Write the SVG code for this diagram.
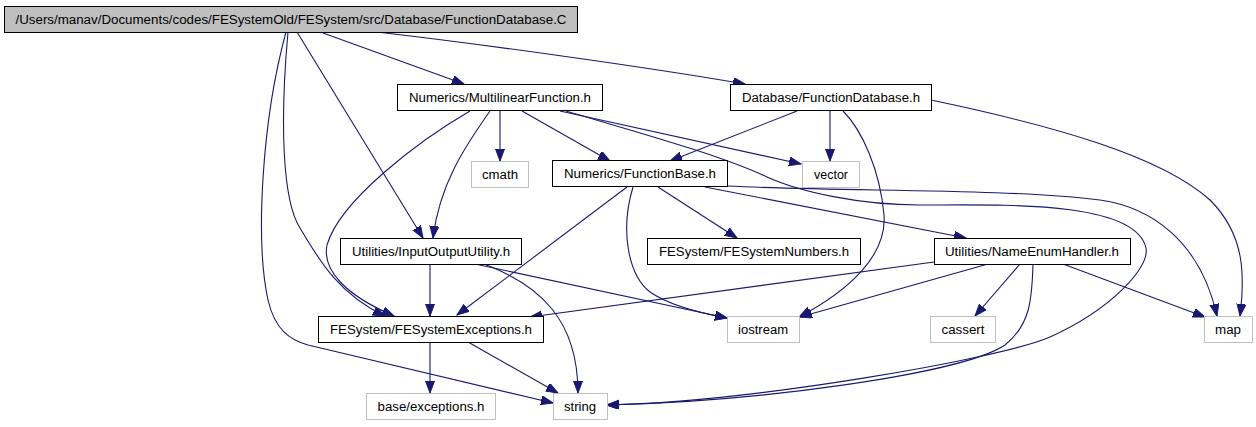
<svg xmlns="http://www.w3.org/2000/svg" width="1256" height="427" viewBox="0 0 1256 427">
<defs>
<marker id="ah" markerUnits="userSpaceOnUse" markerWidth="13" markerHeight="10" refX="12" refY="4.5" orient="auto">
<path d="M0,0 L12,4.5 L0,9 z" fill="#191970" stroke="#191970" stroke-width="1"/>
</marker>
<style>
.e{fill:none;stroke:#191970;stroke-width:1.1;marker-end:url(#ah)}
.d{fill:#ffffff;stroke:#000000;stroke-width:1}
.s{fill:#ffffff;stroke:#bfbfbf;stroke-width:1}
.r{fill:#bfbfbf;stroke:#000000;stroke-width:1}
text{font-family:"Liberation Sans",Arial,Helvetica,sans-serif;font-size:12.5px;fill:#000;text-anchor:middle}
</style>
</defs>
<rect width="1256" height="427" fill="#ffffff"/>
<g id="edges">
<path class="e" d="M323,33 L464,84"/>
<path class="e" d="M377,32 C480,44 640,66 745,84"/>
<path class="e" d="M297,32 L423,238"/>
<path class="e" d="M288,32 C280,120 282,200 300,228 C320,262 340,295 385,316"/>
<path class="e" d="M286,32 C262,120 255,240 268,300 C275,330 290,340 308,345 L553,403"/>
<path class="e" d="M470,111 C420,140 340,200 327,245 C322,270 345,295 394,316"/>
<path class="e" d="M490,111 C470,140 440,180 433,238"/>
<path class="e" d="M500,111 L500,161"/>
<path class="e" d="M522,111 L610,161"/>
<path class="e" d="M560,111 L801,164"/>
<path class="e" d="M566,111 C640,133 720,155 767,177 C800,192 860,205 920,205 C1000,205 1135,200 1146,248 C1150,268 1110,310 1050,337 C1000,359 750,402 607,405"/>
<path class="e" d="M797,111 L670,161"/>
<path class="e" d="M830,111 L830,161"/>
<path class="e" d="M843,111 C862,130 880,170 884,215 C887,255 850,290 799,317"/>
<path class="e" d="M931,100 C1050,125 1160,155 1210,200 C1245,235 1245,275 1240,316"/>
<path class="e" d="M727,186 C850,192 1000,188 1100,200 C1150,207 1200,240 1217,316"/>
<path class="e" d="M705,187 L966,238"/>
<path class="e" d="M658,187 L737,238"/>
<path class="e" d="M627,187 L457,315"/>
<path class="e" d="M633,187 C620,230 628,275 650,292 C670,306 700,313 727,318"/>
<path class="e" d="M475,264 L727,318"/>
<path class="e" d="M430,264 L430,316"/>
<path class="e" d="M484,264 C540,285 578,320 578,393"/>
<path class="e" d="M430,342 L430,393"/>
<path class="e" d="M468,342 L558,393"/>
<path class="e" d="M934,262 L530,317"/>
<path class="e" d="M988,264 L800,317"/>
<path class="e" d="M1020,264 L975,316"/>
<path class="e" d="M1033,264 C1032,300 1030,325 1005,345 C960,375 750,402 607,405"/>
<path class="e" d="M1063,264 L1205,317"/>
</g>
<g id="node_top"><rect class="r" x="4.5" y="6.5" width="573" height="26"/><text x="291" y="24" textLength="551" lengthAdjust="spacingAndGlyphs">/Users/manav/Documents/codes/FESystemOld/FESystem/src/Database/FunctionDatabase.C</text></g>
<g id="node_mlf"><rect class="d" x="397.5" y="84.5" width="205" height="26"/><text x="500" y="102" textLength="182" lengthAdjust="spacingAndGlyphs">Numerics/MultilinearFunction.h</text></g>
<g id="node_fdb"><rect class="d" x="730.5" y="84.5" width="201" height="26"/><text x="831" y="102" textLength="178" lengthAdjust="spacingAndGlyphs">Database/FunctionDatabase.h</text></g>
<g id="node_cmath"><rect class="s" x="471.5" y="161.5" width="57" height="26"/><text x="500" y="179" textLength="36" lengthAdjust="spacingAndGlyphs">cmath</text></g>
<g id="node_fbase"><rect class="d" x="552.5" y="160.5" width="175" height="26"/><text x="640" y="178" textLength="152" lengthAdjust="spacingAndGlyphs">Numerics/FunctionBase.h</text></g>
<g id="node_vector"><rect class="s" x="802.5" y="161.5" width="57" height="26"/><text x="831" y="179" textLength="34" lengthAdjust="spacingAndGlyphs">vector</text></g>
<g id="node_iou"><rect class="d" x="340.5" y="238.5" width="181" height="26"/><text x="431" y="256" textLength="158" lengthAdjust="spacingAndGlyphs">Utilities/InputOutputUtility.h</text></g>
<g id="node_fenum"><rect class="d" x="647.5" y="238.5" width="213" height="26"/><text x="754" y="256" textLength="190" lengthAdjust="spacingAndGlyphs">FESystem/FESystemNumbers.h</text></g>
<g id="node_neh"><rect class="d" x="934.5" y="238.5" width="196" height="26"/><text x="1032" y="256" textLength="174" lengthAdjust="spacingAndGlyphs">Utilities/NameEnumHandler.h</text></g>
<g id="node_fexc"><rect class="d" x="318.5" y="316.5" width="225" height="26"/><text x="431" y="334" textLength="202" lengthAdjust="spacingAndGlyphs">FESystem/FESystemExceptions.h</text></g>
<g id="node_iostream"><rect class="s" x="727.5" y="316.5" width="72" height="26"/><text x="763" y="334" textLength="50" lengthAdjust="spacingAndGlyphs">iostream</text></g>
<g id="node_cassert"><rect class="s" x="930.5" y="316.5" width="65" height="26"/><text x="963" y="334" textLength="43" lengthAdjust="spacingAndGlyphs">cassert</text></g>
<g id="node_map"><rect class="s" x="1204.5" y="316.5" width="48" height="26"/><text x="1228" y="334" textLength="26" lengthAdjust="spacingAndGlyphs">map</text></g>
<g id="node_bexc"><rect class="s" x="366.5" y="393.5" width="129" height="26"/><text x="431" y="411" textLength="107" lengthAdjust="spacingAndGlyphs">base/exceptions.h</text></g>
<g id="node_string"><rect class="s" x="553.5" y="393.5" width="54" height="26"/><text x="580" y="411" textLength="32" lengthAdjust="spacingAndGlyphs">string</text></g>
</svg>
